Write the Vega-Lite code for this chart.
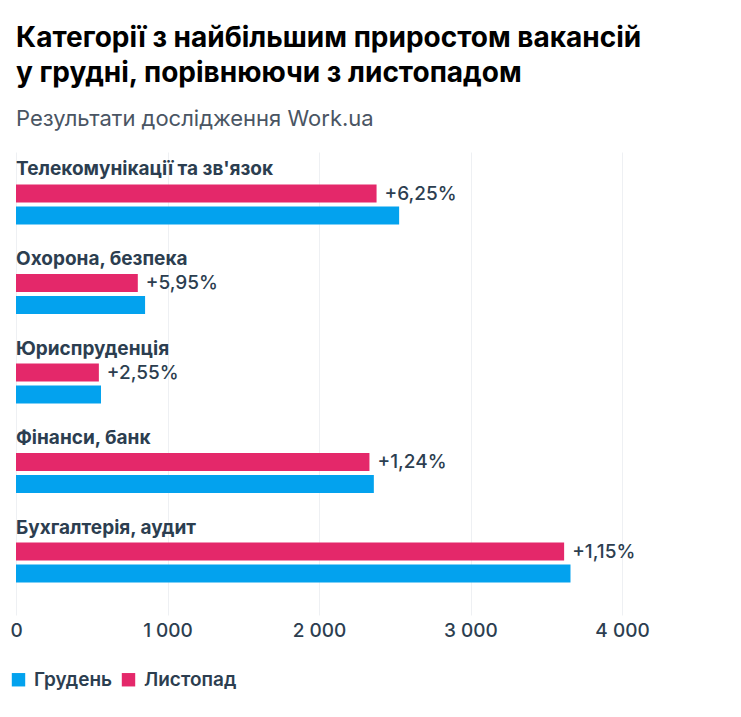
{
  "$schema": "https://vega.github.io/schema/vega-lite/v6.json",
  "width": 606,
  "height": 463,
  "autosize": {"type": "pad"},
  "padding": {"left": 9, "top": 25, "right": 20, "bottom": 10},
  "background": "white",
  "title": {
    "text": ["Категорії з найбільшим приростом вакансій", "у грудні, порівнюючи з листопадом"],
    "subtitle": "Результати дослідження Work.ua",
    "anchor": "start",
    "frame": "group",
    "font": "Inter",
    "fontSize": 28,
    "fontWeight": "bold",
    "color": "#000000",
    "lineHeight": 35,
    "subtitleFont": "Inter",
    "subtitleFontSize": 22,
    "subtitleFontWeight": "normal",
    "subtitleColor": "#4a5563",
    "subtitlePadding": 21,
    "offset": 22
  },
  "data": {
    "values": [
      {"category": "Телекомунікації та зв'язок", "series": "Листопад", "value": 2380, "label": "+6,25%"},
      {"category": "Телекомунікації та зв'язок", "series": "Грудень", "value": 2529, "label": ""},
      {"category": "Охорона, безпека", "series": "Листопад", "value": 804, "label": "+5,95%"},
      {"category": "Охорона, безпека", "series": "Грудень", "value": 852, "label": ""},
      {"category": "Юриспруденція", "series": "Листопад", "value": 547, "label": "+2,55%"},
      {"category": "Юриспруденція", "series": "Грудень", "value": 561, "label": ""},
      {"category": "Фінанси, банк", "series": "Листопад", "value": 2333, "label": "+1,24%"},
      {"category": "Фінанси, банк", "series": "Грудень", "value": 2362, "label": ""},
      {"category": "Бухгалтерія, аудит", "series": "Листопад", "value": 3618, "label": "+1,15%"},
      {"category": "Бухгалтерія, аудит", "series": "Грудень", "value": 3660, "label": ""}
    ]
  },
  "encoding": {
    "y": {
      "field": "category",
      "type": "nominal",
      "sort": null,
      "scale": {"paddingInner": 0.553, "paddingOuter": 0.363},
      "axis": null
    }
  },
  "layer": [
    {
      "mark": {"type": "bar"},
      "encoding": {
        "x": {
          "field": "value",
          "type": "quantitative",
          "scale": {"domain": [0, 4000], "nice": false},
          "axis": {
            "title": null,
            "values": [0, 1000, 2000, 3000, 4000],
            "labelExpr": "replace(format(datum.value, ','), ',', ' ')",
            "grid": true,
            "gridColor": "#eef0f3",
            "domain": false,
            "ticks": false,
            "labelFont": "Inter",
            "labelFontSize": 19,
            "labelFontWeight": 500,
            "labelColor": "#2c3e50",
            "labelPadding": 6,
            "labelFlush": false
          }
        },
        "yOffset": {
          "field": "series",
          "sort": ["Листопад", "Грудень"],
          "scale": {"paddingInner": 0.18}
        },
        "color": {
          "field": "series",
          "type": "nominal",
          "scale": {"domain": ["Грудень", "Листопад"], "range": ["#03a2ee", "#e4286a"]},
          "legend": {
            "title": null,
            "orient": "none",
            "legendX": -7,
            "legendY": 518,
            "direction": "horizontal",
            "symbolType": "square",
            "symbolSize": 180,
            "symbolStrokeWidth": 0,
            "symbolOpacity": 1,
            "labelFont": "Inter",
            "labelFontSize": 19,
            "labelFontWeight": 600,
            "labelColor": "#2c3e50",
            "labelOffset": 6,
            "columnPadding": 6
          }
        }
      }
    },
    {
      "transform": [{"filter": "datum.series === 'Листопад'"}],
      "mark": {"type": "text", "align": "left", "baseline": "middle", "dx": 8, "font": "Inter", "fontSize": 19, "fontWeight": 500, "color": "#2c3e50"},
      "encoding": {
        "x": {"field": "value", "type": "quantitative"},
        "yOffset": {"field": "series", "sort": ["Листопад", "Грудень"]},
        "text": {"field": "label"}
      }
    },
    {
      "transform": [{"filter": "datum.series === 'Листопад'"}],
      "mark": {"type": "text", "align": "left", "baseline": "middle", "dy": -35, "font": "Inter", "fontSize": 19, "fontWeight": "bold", "color": "#2c3e50"},
      "encoding": {
        "x": {"datum": 0, "type": "quantitative"},
        "text": {"field": "category"}
      }
    }
  ],
  "config": {"view": {"stroke": null}}
}
